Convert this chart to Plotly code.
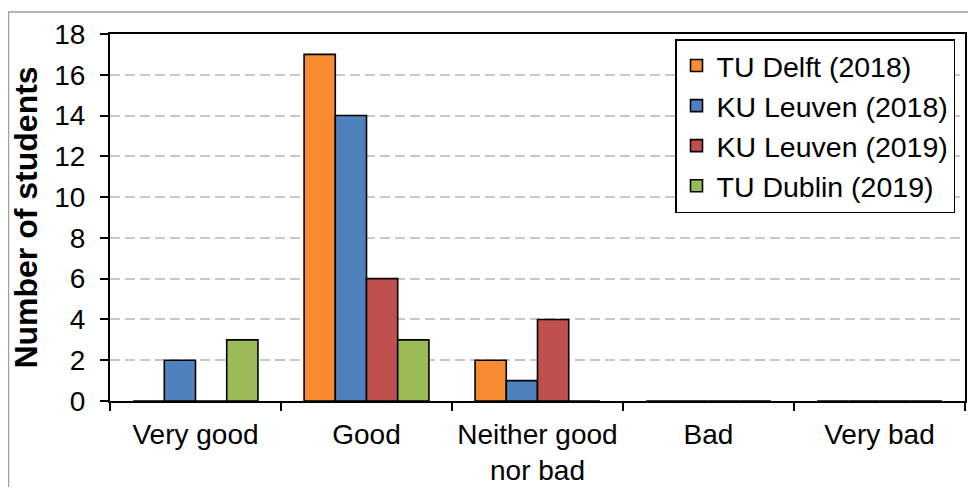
import plotly.graph_objects as go

categories = ["Very good", "Good", "Neither good<br>nor bad", "Bad", "Very bad"]
series_names = ["TU Delft (2018)", "KU Leuven (2018)", "KU Leuven (2019)", "TU Dublin (2019)"]
tu_delft_2018 = [0, 17, 2, 0, 0]
ku_leuven_2018 = [2, 14, 1, 0, 0]
ku_leuven_2019 = [0, 6, 4, 0, 0]
tu_dublin_2019 = [3, 3, 0, 0, 0]
colors = ["#F68B32", "#4F81BD", "#C0504D", "#9BBB59"]
y_ticks = [0, 2, 4, 6, 8, 10, 12, 14, 16, 18]

# page body has an 8px margin; figure coords = screen coords - 8
OFF = 8
W, H = 960, 479
ML, MR, MT, MB = 110 - OFF, W - (965 - OFF), 34 - OFF, H - (401 - OFF)
FONT = "Arial, Liberation Sans, sans-serif"

fig = go.Figure()
for i, (name, vals) in enumerate(zip(series_names,
                                     [tu_delft_2018, ku_leuven_2018, ku_leuven_2019, tu_dublin_2019])):
    fig.add_trace(go.Bar(
        x=categories, y=vals, name=name,
        marker=dict(color=colors[i], line=dict(color="black", width=1.6)),
    ))

pw = W - ML - MR
ph = H - MT - MB

fig.update_layout(
    width=W, height=H,
    margin=dict(l=ML, r=MR, t=MT, b=MB, autoexpand=False),
    paper_bgcolor="white", plot_bgcolor="white",
    barmode="group", bargap=0.27, bargroupgap=0,
    font=dict(family=FONT, size=28, color="black"),
    legend=dict(
        x=(955 - OFF - ML) / pw, y=(H - MB - (39 - OFF)) / ph,
        xanchor="right", yanchor="top",
        bgcolor="white", bordercolor="black", borderwidth=1.5,
        font=dict(family=FONT, size=28.5, color="black"),
        itemwidth=30,
    ),
    xaxis=dict(
        type="category", tickson="boundaries", ticks="outside", ticklen=8,
        tickwidth=2, tickcolor="black", showline=True, linecolor="black",
        linewidth=2, mirror=True, showgrid=False, automargin=False,
        tickfont=dict(family=FONT, size=28, color="black"),
        tickangle=0, ticklabelstandoff=7,
    ),
    yaxis=dict(
        range=[0, 18], tickvals=y_ticks, ticks="outside", ticklen=8,
        tickwidth=2, tickcolor="black", showline=True, linecolor="black",
        linewidth=2, mirror=True, showgrid=True, gridcolor="#C8C8C8",
        gridwidth=2, griddash="10px,5px", zeroline=False, automargin=False,
        tickfont=dict(family=FONT, size=28, color="black"),
        ticklabelstandoff=9,
        title=dict(text="<b>Number of students</b>", standoff=8,
                   font=dict(family=FONT, size=32, color="black")),
    ),
    shapes=[dict(
        type="rect", xref="paper", yref="paper",
        x0=(0.5 - ML) / pw, x1=(W + 10 - ML) / pw,
        y0=(H - MB - (H + 10)) / ph, y1=(H - MB - 4) / ph,
        line=dict(color="#A0A0A0", width=1.5), fillcolor="rgba(0,0,0,0)", layer="below",
    )],
)

fig.write_html("out.html")
